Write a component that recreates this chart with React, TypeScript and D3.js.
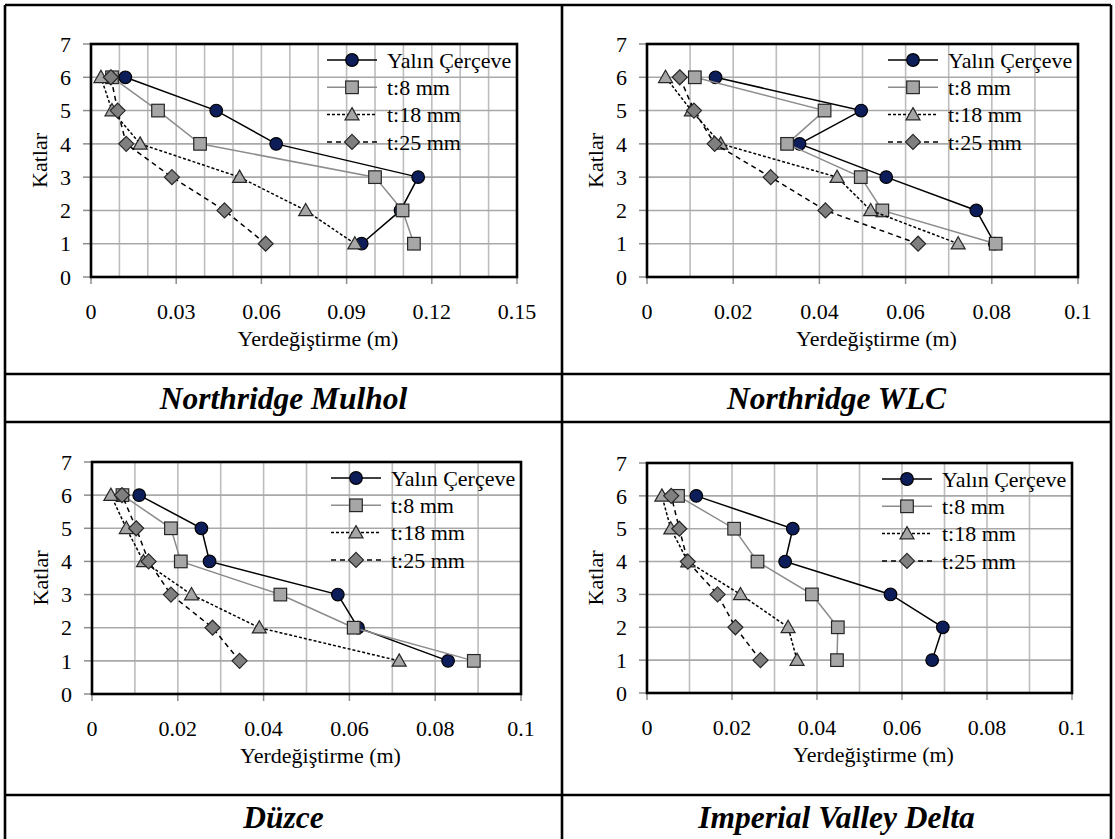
import React from "react";
import * as d3 from "d3";

const floors = [1, 2, 3, 4, 5, 6];
const seriesNames = ["Yalın Çerçeve", "t:8 mm", "t:18 mm", "t:25 mm"];
const panelTitles = ["Northridge Mulhol", "Northridge WLC", "Düzce", "Imperial Valley Delta"];
const yTicks = [0, 1, 2, 3, 4, 5, 6, 7];
const xTicksA = [0, 0.03, 0.06, 0.09, 0.12, 0.15];
const xTicksB = [0, 0.02, 0.04, 0.06, 0.08, 0.1];
const xMaxA = 0.15;
const xMaxB = 0.1;

// values listed for floors 1..6
const mulholYalin = [0.0953, 0.109, 0.1152, 0.0652, 0.0441, 0.0121];
const mulholT8 = [0.1137, 0.1097, 0.1, 0.0384, 0.0236, 0.0074];
const mulholT18 = [0.0929, 0.0756, 0.0523, 0.0173, 0.0074, 0.0035];
const mulholT25 = [0.0615, 0.047, 0.0285, 0.0124, 0.0094, 0.007];

const wlcYalin = [0.0807, 0.0764, 0.0555, 0.0354, 0.0497, 0.0159];
const wlcT8 = [0.0809, 0.0546, 0.0496, 0.0325, 0.0412, 0.0111];
const wlcT18 = [0.0722, 0.0519, 0.0441, 0.0171, 0.0103, 0.0043];
const wlcT25 = [0.0629, 0.0414, 0.0287, 0.0157, 0.0109, 0.0076];

const duzceYalin = [0.083, 0.062, 0.0573, 0.0274, 0.0255, 0.011];
const duzceT8 = [0.089, 0.061, 0.0439, 0.0207, 0.0184, 0.0071];
const duzceT18 = [0.0716, 0.039, 0.0232, 0.012, 0.008, 0.0044];
const duzceT25 = [0.0344, 0.0281, 0.0184, 0.0132, 0.0103, 0.007];

const impYalin = [0.0671, 0.0696, 0.0573, 0.0325, 0.0343, 0.0116];
const impT8 = [0.0447, 0.0449, 0.0388, 0.026, 0.0205, 0.0073];
const impT18 = [0.0353, 0.0332, 0.022, 0.0096, 0.0056, 0.0035];
const impT25 = [0.0267, 0.0208, 0.0166, 0.0096, 0.0076, 0.0057];

const panelData = [
  [mulholYalin, mulholT8, mulholT18, mulholT25],
  [wlcYalin, wlcT8, wlcT18, wlcT25],
  [duzceYalin, duzceT8, duzceT18, duzceT25],
  [impYalin, impT8, impT18, impT25],
];

const FONT = "'Liberation Serif', 'Times New Roman', serif";

const layouts = [
  { x0: 91, x1: 517, y0: 44, y1: 277, xMax: xMaxA, ticks: xTicksA },
  { x0: 647, x1: 1078, y0: 44, y1: 277, xMax: xMaxB, ticks: xTicksB },
  { x0: 92, x1: 521, y0: 462, y1: 694, xMax: xMaxB, ticks: xTicksB },
  { x0: 647, x1: 1072, y0: 463, y1: 693, xMax: xMaxB, ticks: xTicksB },
];

const styles = [
  { stroke: "#000000", dash: "", marker: "circle", fill: "#0c1d5a" },
  { stroke: "#8c8c8c", dash: "", marker: "square", fill: "#a6a6a6" },
  { stroke: "#000000", dash: "3,2", marker: "triangle", fill: "#a6a6a6" },
  { stroke: "#000000", dash: "5,4", marker: "diamond", fill: "#7f7f7f" },
];

function Marker({ type, x, y, fill }: { type: string; x: number; y: number; fill: string }) {
  const sw = 1.2;
  const sc = "#262626";
  if (type === "circle") return <circle cx={x} cy={y} r={6.3} fill={fill} stroke="#000" strokeWidth={sw} />;
  if (type === "square")
    return <rect x={x - 6.3} y={y - 6.3} width={12.6} height={12.6} fill={fill} stroke={sc} strokeWidth={sw} />;
  if (type === "triangle") {
    const s = 7;
    return (
      <path
        d={`M${x},${y - s} L${x + s * 1.0},${y + s * 0.75} L${x - s * 1.0},${y + s * 0.75} Z`}
        fill={fill}
        stroke={sc}
        strokeWidth={sw}
      />
    );
  }
  const s = 7.5;
  return (
    <path d={`M${x},${y - s} L${x + s},${y} L${x},${y + s} L${x - s},${y} Z`} fill={fill} stroke={sc} strokeWidth={sw} />
  );
}

function Panel({ idx }: { idx: number }) {
  const L = layouts[idx];
  const data = panelData[idx];
  const x = d3.scaleLinear().domain([0, L.xMax]).range([L.x0, L.x1]);
  const y = d3.scaleLinear().domain([0, 7]).range([L.y1, L.y0]);
  const minor = d3.range(1, Math.round(L.xMax / 0.01)).map((i) => i * 0.01);
  const line = d3
    .line<[number, number]>()
    .x((d) => x(d[0]))
    .y((d) => y(d[1]));
  const fmt = (v: number) => (v === 0 ? "0" : String(+v.toFixed(2)));
  const cx = (L.x0 + L.x1) / 2;
  const cy = (L.y0 + L.y1) / 2;
  return (
    <g>
      {minor.map((v) => (
        <line key={"v" + v} x1={x(v)} x2={x(v)} y1={L.y0} y2={L.y1} stroke="#bdbdbd" strokeWidth={1.6} />
      ))}
      {yTicks.slice(1, -1).map((v) => (
        <line key={"h" + v} x1={L.x0} x2={L.x1} y1={y(v)} y2={y(v)} stroke="#a9a9a9" strokeWidth={1.6} />
      ))}
      {yTicks.map((v) => (
        <line key={"yt" + v} x1={L.x0 - 8} x2={L.x0} y1={y(v)} y2={y(v)} stroke="#8c8c8c" strokeWidth={1.5} />
      ))}
      {L.ticks.map((v) => (
        <line key={"xt" + v} x1={x(v)} x2={x(v)} y1={L.y1} y2={L.y1 + 7} stroke="#8c8c8c" strokeWidth={1.5} />
      ))}
      <rect x={L.x0} y={L.y0} width={L.x1 - L.x0} height={L.y1 - L.y0} fill="none" stroke="#000" strokeWidth={2.6} />
      {yTicks.map((v) => (
        <text key={"yl" + v} x={L.x0 - 20} y={y(v)} dy="0.35em" textAnchor="end" fontFamily={FONT} fontSize={22}>
          {v}
        </text>
      ))}
      {L.ticks.map((v) => (
        <text key={"xl" + v} x={x(v)} y={L.y1 + 42} textAnchor="middle" fontFamily={FONT} fontSize={22}>
          {fmt(v)}
        </text>
      ))}
      <text x={cx + 14} y={L.y1 + 69} textAnchor="middle" fontFamily={FONT} fontSize={22}>
        Yerdeğiştirme (m)
      </text>
      <text
        transform={`translate(${L.x0 - 52},${cy}) rotate(-90)`}
        textAnchor="middle"
        dy="0.35em"
        fontFamily={FONT}
        fontSize={22}
      >
        Katlar
      </text>
      {data.map((vals, si) => {
        const st = styles[si];
        const pts: [number, number][] = vals.map((v, i) => [v, floors[i]]);
        return (
          <g key={"s" + si}>
            <path d={line(pts) || ""} fill="none" stroke={st.stroke} strokeWidth={1.5} strokeDasharray={st.dash} />
            {pts.map((p, i) => (
              <Marker key={i} type={st.marker} x={x(p[0])} y={y(p[1])} fill={st.fill} />
            ))}
          </g>
        );
      })}
      {seriesNames.map((name, si) => {
        const st = styles[si];
        const ly = L.y0 + 16 + si * 27.3;
        return (
          <g key={"lg" + si}>
            <line
              x1={L.x1 - 190}
              x2={L.x1 - 140}
              y1={ly}
              y2={ly}
              stroke={st.stroke}
              strokeWidth={1.5}
              strokeDasharray={st.dash}
            />
            <Marker type={st.marker} x={L.x1 - 165} y={ly} fill={st.fill} />
            <text x={L.x1 - 130} y={ly} dy="0.35em" fontFamily={FONT} fontSize={22}>
              {name}
            </text>
          </g>
        );
      })}
    </g>
  );
}

export default function App() {
  const W = 1115;
  const H = 839;
  const left = 5;
  const right = 1111;
  const mid = 562;
  const titleCenters = [(left + mid) / 2, (mid + right) / 2];
  return (
    <svg
      width={W}
      height={H}
      style={{ position: "absolute", left: 0, top: 0, display: "block", background: "#fff" }}
    >
      <rect x={0} y={0} width={W} height={H} fill="#fff" />
      <line x1={left} x2={right} y1={5} y2={5} stroke="#000" strokeWidth={2.6} />
      <line x1={left} x2={left} y1={5} y2={H + 5} stroke="#000" strokeWidth={2.6} />
      <line x1={right} x2={right} y1={5} y2={H + 5} stroke="#000" strokeWidth={2.6} />
      <line x1={mid} x2={mid} y1={5} y2={H + 5} stroke="#000" strokeWidth={2.6} />
      <line x1={left} x2={right} y1={374} y2={374} stroke="#000" strokeWidth={2.6} />
      <line x1={left} x2={right} y1={422} y2={422} stroke="#000" strokeWidth={2.6} />
      <line x1={left} x2={right} y1={795} y2={795} stroke="#000" strokeWidth={2.6} />
      {[0, 1, 2, 3].map((i) => (
        <Panel key={i} idx={i} />
      ))}
      {panelTitles.map((t, i) => (
        <text
          key={t}
          x={titleCenters[i % 2]}
          y={i < 2 ? 409 : 828}
          textAnchor="middle"
          fontFamily={FONT}
          fontWeight="bold"
          fontStyle="italic"
          fontSize={31.5}
        >
          {t}
        </text>
      ))}
    </svg>
  );
}
